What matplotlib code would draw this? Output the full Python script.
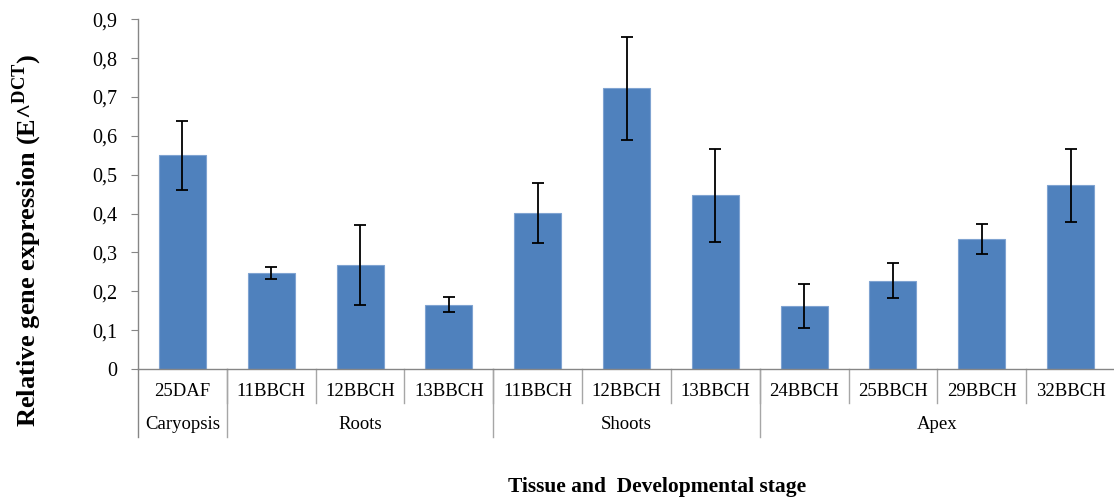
import matplotlib.pyplot as plt
import matplotlib.transforms as mtransforms
import numpy as np

plt.rcParams['font.family'] = ['Liberation Serif', 'DejaVu Serif']
plt.rcParams['mathtext.fontset'] = 'custom'
plt.rcParams['mathtext.rm'] = 'Liberation Serif'
plt.rcParams['mathtext.bf'] = 'Liberation Serif:bold'

# expression values per tissue / stage
stages = ['25DAF', '11BBCH', '12BBCH', '13BBCH', '11BBCH', '12BBCH', '13BBCH',
          '24BBCH', '25BBCH', '29BBCH', '32BBCH']
tissues = ['Caryopsis', 'Roots', 'Shoots', 'Apex']
tissue_size = [1, 3, 3, 4]
expr = [0.550, 0.247, 0.268, 0.166, 0.402, 0.722, 0.447, 0.162, 0.227, 0.335, 0.473]
err = [0.088, 0.016, 0.103, 0.020, 0.078, 0.133, 0.119, 0.056, 0.045, 0.039, 0.094]
yticks = [0, 0.1, 0.2, 0.3, 0.4, 0.5, 0.6, 0.7, 0.8, 0.9]

axcol = '#868686'
sepcol = '#A6A6A6'

fig = plt.figure(figsize=(11.14, 4.97), dpi=100)
ax = fig.add_axes([0.1239, 0.2575, 0.877, 0.7036])

x = np.arange(len(stages))
ax.bar(x, expr, width=0.53, color='#4F81BD', edgecolor='#7FA3D1', linewidth=0.8,
       yerr=err, error_kw=dict(ecolor='black', elinewidth=1.3, capsize=4.3, capthick=1.3))

ax.set_xlim(-0.5, len(stages) - 0.5)
ax.set_ylim(0, 0.9)
ax.set_yticks(yticks)
ax.set_yticklabels(['0' if v == 0 else ('%.1f' % v).replace('.', ',') for v in yticks],
                   fontsize=14.5)
ax.tick_params(axis='y', direction='out', length=5, color=axcol, pad=10)
ax.set_xticks([])

for s in ['top', 'right']:
    ax.spines[s].set_visible(False)
for s in ['left', 'bottom']:
    ax.spines[s].set_color(axcol)
    ax.spines[s].set_linewidth(1.0)

trans = mtransforms.blended_transform_factory(ax.transData, ax.transAxes)

# stage labels and short separators
for i, lab in enumerate(stages):
    ax.text(i, -0.063, lab, transform=trans, ha='center', va='center', fontsize=13.5)
for i in range(1, len(stages) + 1):
    ax.plot([i - 0.5, i - 0.5], [0, -0.097], transform=trans, color=sepcol,
            lw=1.0, clip_on=False)

# tissue labels and long separators
start = 0
edges = [-0.5]
for name, n in zip(tissues, tissue_size):
    mid = start + (n - 1) / 2
    ax.text(mid, -0.160, name, transform=trans, ha='center', va='center', fontsize=13.5)
    start += n
    edges.append(start - 0.5)
for e in edges:
    ax.plot([e, e], [0, -0.194], transform=trans, color=sepcol if e > -0.5 else axcol,
            lw=1.0, clip_on=False)

fig.text(27 / 1114, 1 - 240 / 497,
         r'Relative gene expression (E^$^{\mathbf{DCT}}$)',
         rotation=90, ha='center', va='center', fontsize=19, fontweight='bold')
fig.text(657 / 1114, 1 - 487 / 497, 'Tissue and  Developmental stage',
         ha='center', va='center', fontsize=15.5, fontweight='bold')

fig.savefig('out.png', dpi=100)
